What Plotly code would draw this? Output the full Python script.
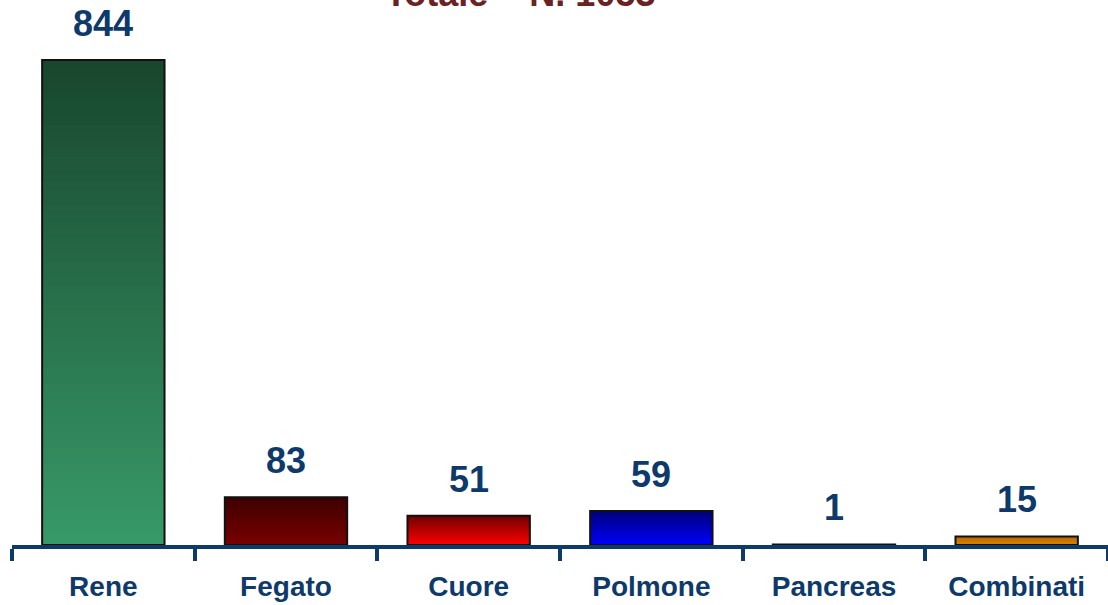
"""Trapianti per organo - bar chart with vertical gradient fills."""

import plotly.graph_objects as go

organs = ["Rene", "Fegato", "Cuore", "Polmone", "Pancreas", "Combinati"]
counts = [844, 83, 51, 59, 1, 15]
title_text = "Totale = N. 1053"

# top / bottom colours of each bar's gradient
top_colors = [(24, 70, 46), (62, 0, 0), (112, 0, 0), (0, 0, 122), (120, 60, 140), (184, 104, 0)]
bottom_colors = [(56, 154, 104), (122, 0, 0), (255, 0, 0), (0, 0, 255), (150, 90, 170), (222, 132, 0)]

NAVY = "#0d3a6b"
FONT = "Liberation Sans, Arial, sans-serif"
N_STEPS = 60
BAR_WIDTH = 0.67


def mix(c0, c1, t):
    return "rgb({},{},{})".format(*[round(a + (b - a) * t) for a, b in zip(c0, c1)])


fig = go.Figure()

# gradient: each slice runs from its base up to the bar top, later slices
# overlap the earlier ones so no seams show between them
for i in range(N_STEPS):
    t = (i + 0.5) / N_STEPS
    fig.add_trace(
        go.Bar(
            x=organs,
            y=[v * (N_STEPS - i) / N_STEPS for v in counts],
            base=[v * i / N_STEPS for v in counts],
            width=BAR_WIDTH,
            marker=dict(
                color=[mix(b, tp, t) for b, tp in zip(bottom_colors, top_colors)],
                line=dict(width=0),
            ),
            hoverinfo="skip",
            showlegend=False,
        )
    )

# outline bars
fig.add_trace(
    go.Bar(
        x=organs,
        y=counts,
        width=BAR_WIDTH,
        marker=dict(color="rgba(0,0,0,0)", line=dict(color="#111111", width=2)),
        hovertemplate="%{x}: %{y}<extra></extra>",
        showlegend=False,
    )
)

for organ, v in zip(organs, counts):
    fig.add_annotation(
        x=organ,
        y=v,
        text=str(v),
        showarrow=False,
        yanchor="bottom",
        yshift=14,
        font=dict(family=FONT, size=36, color=NAVY, weight="bold"),
    )

# title sits partly above the top edge, as in the original slide
fig.add_annotation(
    xref="paper",
    yref="paper",
    x=0.4635,
    y=1,
    text=title_text,
    showarrow=False,
    yanchor="bottom",
    yshift=24,
    font=dict(family=FONT, size=36, color="#6b2222", weight="bold"),
)

fig.update_layout(
    width=1108,
    height=605,
    barmode="overlay",
    plot_bgcolor="white",
    paper_bgcolor="white",
    margin=dict(l=12, r=0, t=40, b=60),
    xaxis=dict(
        showline=True,
        linecolor=NAVY,
        linewidth=4,
        ticks="outside",
        tickson="boundaries",
        ticklen=12,
        tickwidth=4,
        tickcolor=NAVY,
        showgrid=False,
        ticklabelstandoff=13,
        tickfont=dict(family=FONT, size=28, color=NAVY, weight="bold"),
    ),
    yaxis=dict(range=[0, 879], visible=False, showgrid=False, zeroline=False),
)

# drop the browser's default body margin so the figure fills the window
fig.write_html(
    "out.html",
    config={"displayModeBar": False},
    post_script="document.body.style.margin='0';document.body.style.overflow='hidden';",
)
